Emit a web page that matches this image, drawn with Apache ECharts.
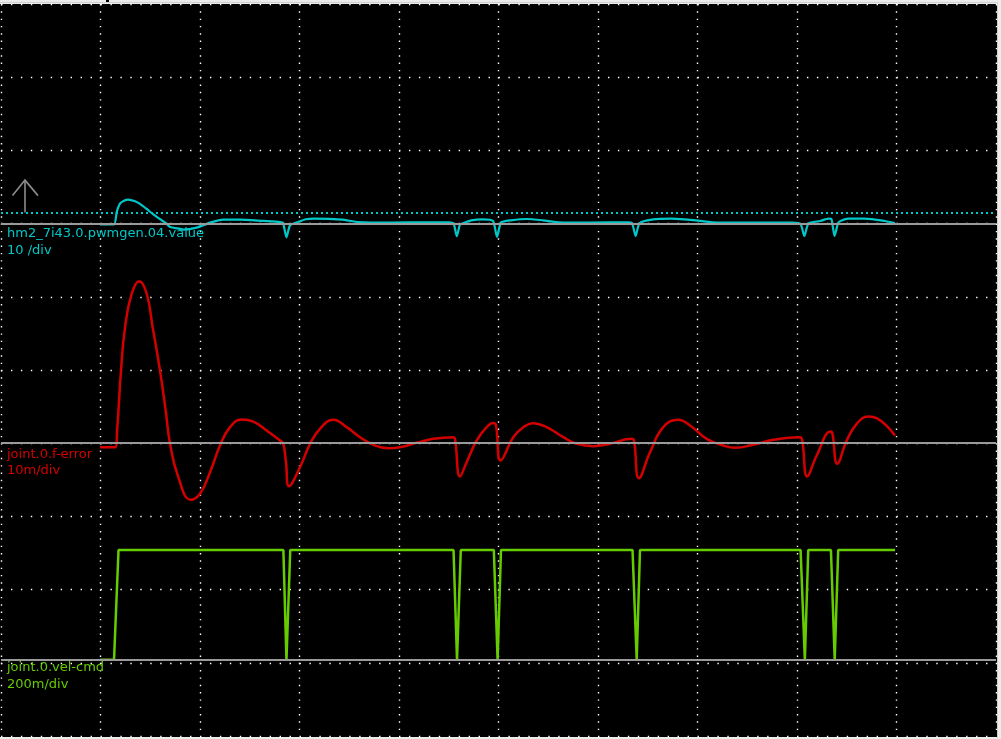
<!DOCTYPE html>
<html>
<head>
<meta charset="utf-8">
<script src="https://cdn.jsdelivr.net/npm/echarts@6/dist/echarts.min.js"></script>
<style>
html,body{margin:0;padding:0;background:#ececec;}
#c{width:1001px;height:739px;}
</style>
</head>
<body>
<div id="c"></div>
<script>
// time in scope divisions (10 divisions across the screen)
const channelNames = ['hm2_7i43.0.pwmgen.04.value', 'joint.0.f-error', 'joint.0.vel-cmd'];
const channelScales = ['10 /div', '10m/div', '200m/div'];
const voltsPerDiv = [10, 0.01, 0.2];
const baselineDivFromBottom = [7, 4, 1.04];
const triggerLevel = 1.5; // on channel 1 (pwmgen value)

const tCyan = [0.995,1.136,1.163,1.196,1.236,1.279,1.347,1.397,1.464,1.531,1.598,1.665,1.698,1.799,1.832,1.967,2.101,2.234,2.402,2.636,2.804,2.834,2.869,2.905,2.985,3.065,3.146,3.427,3.588,3.915,4.319,4.503,4.548,4.581,4.613,4.643,4.724,4.844,4.945,4.985,5.025,5.126,5.286,5.447,5.611,5.934,6.297,6.342,6.378,6.417,6.540,6.742,6.984,7.146,7.548,7.953,8.035,8.074,8.116,8.235,8.317,8.347,8.377,8.412,8.437,8.518,8.680,8.881,8.983];
const vCyan = [-0.10,-0.10,1.58,2.73,3.11,3.28,3.05,2.70,2.00,1.25,0.60,0.00,-0.46,-0.71,-0.82,-0.55,0.14,0.55,0.55,0.36,0.22,0.11,-1.87,-0.23,0.22,0.59,0.68,0.55,0.22,0.14,0.18,0.18,0.04,-1.73,-0.10,0.04,0.45,0.59,0.36,-1.83,0.14,0.45,0.63,0.45,0.18,0.14,0.18,0.08,-1.69,0.04,0.55,0.68,0.45,0.18,0.14,0.14,-0.03,-1.69,0.04,0.36,0.68,0.59,-1.69,0.04,0.36,0.68,0.68,0.36,0.08];

const tRed = [0.995,1.146,1.169,1.206,1.246,1.314,1.390,1.464,1.525,1.598,1.655,1.698,1.782,1.907,2.000,2.101,2.201,2.302,2.419,2.536,2.670,2.804,2.837,2.864,2.894,3.005,3.106,3.206,3.340,3.474,3.608,3.742,3.892,4.010,4.178,4.345,4.546,4.563,4.613,4.680,4.781,4.881,4.948,4.975,5.022,5.149,5.249,5.350,5.484,5.651,5.786,5.953,6.121,6.339,6.362,6.412,6.523,6.656,6.807,6.925,7.092,7.259,7.377,7.561,7.762,8.030,8.053,8.103,8.198,8.339,8.357,8.405,8.500,8.600,8.717,8.801,8.985];
const vRed = [-0.00055,-0.00055,0.00219,0.00993,0.01577,0.02045,0.02213,0.02045,0.01577,0.00993,0.00447,0.0,-0.00464,-0.00773,-0.00691,-0.00396,-0.00031,0.00219,0.00324,0.00296,0.00173,0.00037,-0.00008,-0.00260,-0.00587,-0.00328,-0.00008,0.00197,0.00320,0.00219,0.00082,-0.00022,-0.00068,-0.00055,0.00005,0.00060,0.00082,0.00060,-0.00455,-0.00260,0.00037,0.00219,0.00276,0.00242,-0.00236,0.00082,0.00219,0.00273,0.00219,0.00082,-0.00008,-0.00041,-0.00008,0.00060,0.00037,-0.00478,-0.00123,0.00219,0.00320,0.00242,0.00060,-0.00031,-0.00063,-0.00022,0.00046,0.00082,0.00037,-0.00455,-0.00168,0.00160,0.00128,-0.00281,0.00037,0.00265,0.00365,0.00342,0.00105];

const tGreen = [0.995,1.136,1.181,2.838,2.869,2.907,4.548,4.583,4.621,4.953,4.991,5.025,6.347,6.389,6.422,8.036,8.079,8.113,8.341,8.379,8.414,8.985];
const vGreen = [0,0,0.3,0.3,0,0.3,0.3,0,0.3,0.3,0,0.3,0.3,0,0.3,0.3,0,0.3,0.3,0,0.3,0.3];

const colors = ['#00c8c8', '#d40000', '#66cc00'];
const zip = (t, v) => t.map((x, i) => [x, v[i]]);

const chart = echarts.init(document.getElementById('c'), null, {renderer: 'canvas'});

function yAxisFor(i) {
  const lo = -baselineDivFromBottom[i] * voltsPerDiv[i];
  const hi = (10 - baselineDivFromBottom[i]) * voltsPerDiv[i];
  return {type: 'value', min: lo, max: hi, show: false, splitLine: {show: false}};
}

const baselineStyle = {color: '#9a9a9a', width: 2, type: 'solid'};

const option = {
  backgroundColor: '#ececec',
  animation: false,
  grid: {left: 1, top: 4, width: 995, height: 732, containLabel: false, show: false},
  xAxis: {
    type: 'value', min: 0, max: 10, interval: 1,
    axisLine: {show: false}, axisTick: {show: false}, axisLabel: {show: false},
    splitLine: {show: true, showMinLine: true, showMaxLine: true,
      lineStyle: {color: '#ffffff', width: 1.4, type: [1.4, 5.92]}}
  },
  yAxis: [
    {type: 'value', min: 0, max: 10, interval: 1,
      axisLine: {show: false}, axisTick: {show: false}, axisLabel: {show: false},
      splitLine: {show: true, showMinLine: true, showMaxLine: true,
        lineStyle: {color: '#ffffff', width: 1.4, type: [1.4, 8.55]}}},
    yAxisFor(0), yAxisFor(1), yAxisFor(2)
  ],
  series: [
    {
      name: channelNames[0], type: 'line', yAxisIndex: 1, data: zip(tCyan, vCyan),
      showSymbol: false, symbol: 'none', z: 3, smooth: 0.2,
      lineStyle: {color: colors[0], width: 2.2},
      markLine: {silent: true, symbol: ['none', 'none'], label: {show: false}, animation: false,
        data: [
          {yAxis: 0, lineStyle: baselineStyle},
          {yAxis: triggerLevel, lineStyle: {color: colors[0], width: 2, type: [2, 3]}}
        ]}
    },
    {
      name: channelNames[1], type: 'line', yAxisIndex: 2, data: zip(tRed, vRed),
      showSymbol: false, symbol: 'none', smooth: 0.45, z: 3,
      lineStyle: {color: colors[1], width: 2.5},
      markLine: {silent: true, symbol: ['none', 'none'], label: {show: false}, animation: false,
        data: [{yAxis: 0, lineStyle: baselineStyle}]}
    },
    {
      name: channelNames[2], type: 'line', yAxisIndex: 3, data: zip(tGreen, vGreen),
      showSymbol: false, symbol: 'none', z: 3,
      lineStyle: {color: colors[2], width: 2.5},
      markLine: {silent: true, symbol: ['none', 'none'], label: {show: false}, animation: false,
        data: [{yAxis: 0, lineStyle: baselineStyle}]}
    }
  ]
};
chart.setOption(option);

// overlay: black screen, channel labels, trigger arrow
const labelBase = [237.5, 458.3, 671.7];
const texts = [];
for (let i = 0; i < 3; i++) {
  texts.push({type: 'text', z: 100, silent: true,
    style: {x: 7, y: labelBase[i] - 4, text: channelNames[i], fill: colors[i],
      font: '13px "DejaVu Sans"', verticalAlign: 'middle', align: 'left'}});
  texts.push({type: 'text', z: 100, silent: true,
    style: {x: 7, y: labelBase[i] + 16.8 - 4, text: channelScales[i], fill: colors[i],
      font: '13px "DejaVu Sans"', verticalAlign: 'middle', align: 'left'}});
}
const trigY = chart.convertToPixel({yAxisIndex: 1}, triggerLevel);
const arrowX = 25;
chart.setOption({
  graphic: [
    {type: 'rect', z: -100, silent: true, shape: {x: 0, y: 4, width: 997, height: 733}, style: {fill: '#000'}},
    {type: 'rect', z: -100, silent: true, shape: {x: 0, y: 2, width: 998, height: 1}, style: {fill: '#cfcfcf'}},
    {type: 'rect', z: -100, silent: true, shape: {x: 997, y: 2, width: 1, height: 736}, style: {fill: '#cfcfcf'}},
    {type: 'rect', z: 100, silent: true, shape: {x: 106, y: 0, width: 3, height: 2}, style: {fill: '#000'}},
    {type: 'polyline', z: 100, silent: true,
      shape: {points: [[arrowX, trigY], [arrowX, trigY - 32.5]]},
      style: {stroke: '#8c8c8c', lineWidth: 1.6, fill: null}},
    {type: 'polyline', z: 100, silent: true,
      shape: {points: [[arrowX - 12.5, trigY - 17], [arrowX, trigY - 32.5], [arrowX + 13, trigY - 17]]},
      style: {stroke: '#8c8c8c', lineWidth: 1.6, fill: null}}
  ].concat(texts)
});
</script>
</body>
</html>
